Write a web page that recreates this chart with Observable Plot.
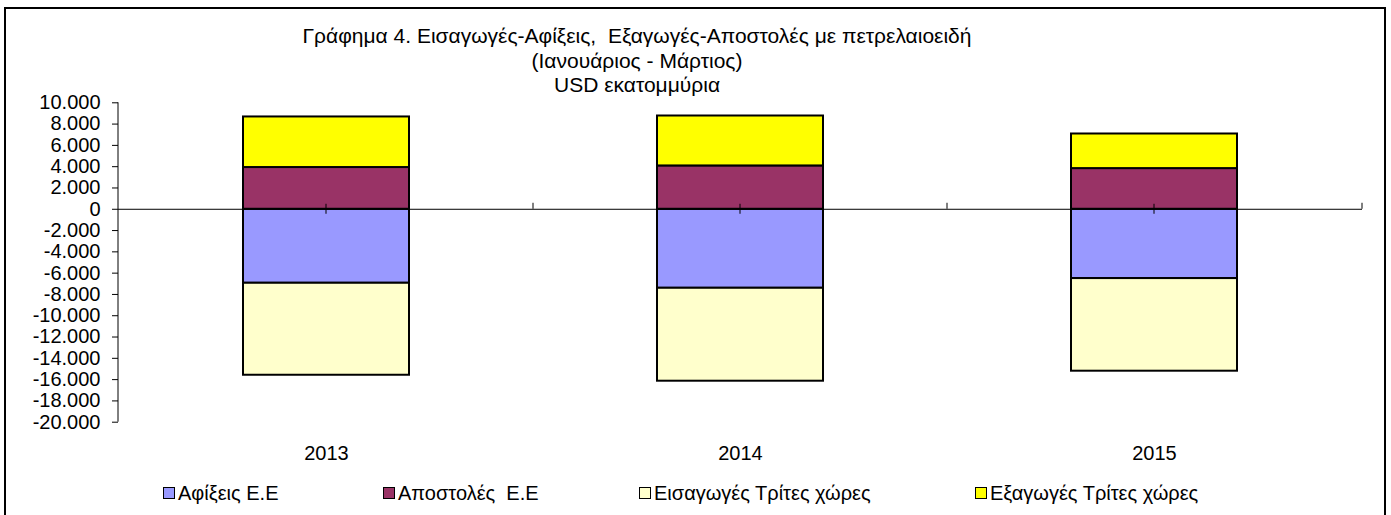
<!DOCTYPE html>
<html>
<head>
<meta charset="utf-8">
<script src="https://cdn.jsdelivr.net/npm/d3@7"></script>
<script src="https://cdn.jsdelivr.net/npm/@observablehq/plot@0.6"></script>
<style>
  html, body { margin: 0; padding: 0; background: #fff; }
  #wrap { position: relative; width: 1391px; height: 515px; overflow: hidden; font-family: "Liberation Sans", Arial, sans-serif; color: #000; }
  #border { position: absolute; left: 4px; top: 7px; width: 1378px; height: 600px; border: 2px solid #000; box-sizing: content-box; }
  #chart { position: absolute; left: 0; top: 0; }
  .title { position: absolute; left: 287px; width: 700px; text-align: center; font-size: 21px; line-height: 24.5px; white-space: pre; }
  .leg { position: absolute; top: 483px; font-size: 20px; line-height: 20px; white-space: pre; display: flex; align-items: center; }
  .sw { display: inline-block; width: 10px; height: 10px; border: 1.5px solid #000; margin-right: 3px; }
</style>
</head>
<body>
<div id="wrap">
  <div id="border"></div>
  <div id="chart"></div>
  <div id="titles"></div>
  <div id="legend"></div>
</div>
<script>
// ---- Data ----
const years = ["2013", "2014", "2015"];
const seriesNames = ["Αφίξεις Ε.Ε", "Αποστολές  Ε.Ε", "Εισαγωγές Τρίτες χώρες", "Εξαγωγές Τρίτες χώρες"];
const afixeis   = [-6950, -7420, -6510];
const apostoles = [3920, 4070, 3820];
const eisagoges = [-8640, -8730, -8700];
const exagoges  = [4750, 4690, 3250];
const seriesColors = ["#9999FF", "#993366", "#FFFFCC", "#FFFF00"];
const yTicks = [-20000, -18000, -16000, -14000, -12000, -10000, -8000, -6000, -4000, -2000, 0, 2000, 4000, 6000, 8000, 10000];
const titleLines = ["Γράφημα 4. Εισαγωγές-Αφίξεις,  Εξαγωγές-Αποστολές με πετρελαιοειδή", "(Ιανουάριος - Μάρτιος)", "USD εκατομμύρια"];

const seriesValues = [afixeis, apostoles, eisagoges, exagoges];
const table = [];
seriesNames.forEach((s, i) => years.forEach((yr, j) => table.push({year: yr, series: s, value: seriesValues[i][j]})));

const fmt = d3.formatLocale({decimal: ",", thousands: ".", grouping: [3], currency: ["", ""], minus: "-"}).format(",d");

const axisDecor = (index, scales, values, dimensions) => {
  const {x, y} = scales;
  const g = d3.create("svg:g").attr("stroke", "#000").attr("fill", "none").attr("stroke-width", 1);
  const x0 = dimensions.marginLeft;
  const xEnd = dimensions.width - dimensions.marginRight;
  const y0 = y(0);
  g.append("line").attr("x1", x0).attr("x2", x0).attr("y1", y(10000)).attr("y2", y(-20000));
  const bw = x.bandwidth();
  years.forEach((yr, j) => {
    const c = x(yr) + bw / 2;
    g.append("line").attr("x1", c).attr("x2", c).attr("y1", y0 - 5).attr("y2", y0 + 5);
    const b = j < years.length - 1 ? (x(yr) + bw + x(years[j + 1])) / 2 : xEnd;
    g.append("line").attr("x1", b).attr("x2", b).attr("y1", y0 - 6).attr("y2", y0);
  });
  return g.node();
};

const chart = Plot.plot({
  width: 1391,
  height: 515,
  marginLeft: 118,
  marginRight: 29,
  marginTop: 102.3,
  marginBottom: 93.3,
  style: {fontFamily: "'Liberation Sans', Arial, sans-serif", fontSize: "20px", background: "transparent", color: "#000"},
  x: {domain: years, paddingInner: 0.6, paddingOuter: 0.3, label: null},
  y: {domain: [-20000, 10000], label: null},
  color: {domain: seriesNames, range: seriesColors},
  marks: [
    Plot.barY(table, {x: "year", y: "value", fill: "series", stroke: "#000", strokeWidth: 2, order: null}),
    Plot.ruleY([0], {stroke: "#000", strokeWidth: 1}),
    axisDecor,
    Plot.axisY({ticks: yTicks, tickFormat: fmt, tickSize: 6, tickPadding: 12, fontSize: 20, stroke: "#000", fill: "#000"}),
    Plot.axisX({tickSize: 0, tickPadding: 24, fontSize: 20, fill: "#000"})
  ]
});
document.getElementById("chart").appendChild(chart);

// Titles
const tEl = document.getElementById("titles");
titleLines.forEach((t, i) => {
  const d = document.createElement("div");
  d.className = "title";
  d.style.top = (24.25 + i * 24.5) + "px";
  d.textContent = t;
  tEl.appendChild(d);
});

// Legend
const legLeft = [163, 383, 639, 975];
const lEl = document.getElementById("legend");
seriesNames.forEach((s, i) => {
  const d = document.createElement("div");
  d.className = "leg";
  d.style.left = legLeft[i] + "px";
  const sw = document.createElement("span");
  sw.className = "sw";
  sw.style.background = seriesColors[i];
  d.appendChild(sw);
  d.appendChild(document.createTextNode(s));
  lEl.appendChild(d);
});
</script>
</body>
</html>
